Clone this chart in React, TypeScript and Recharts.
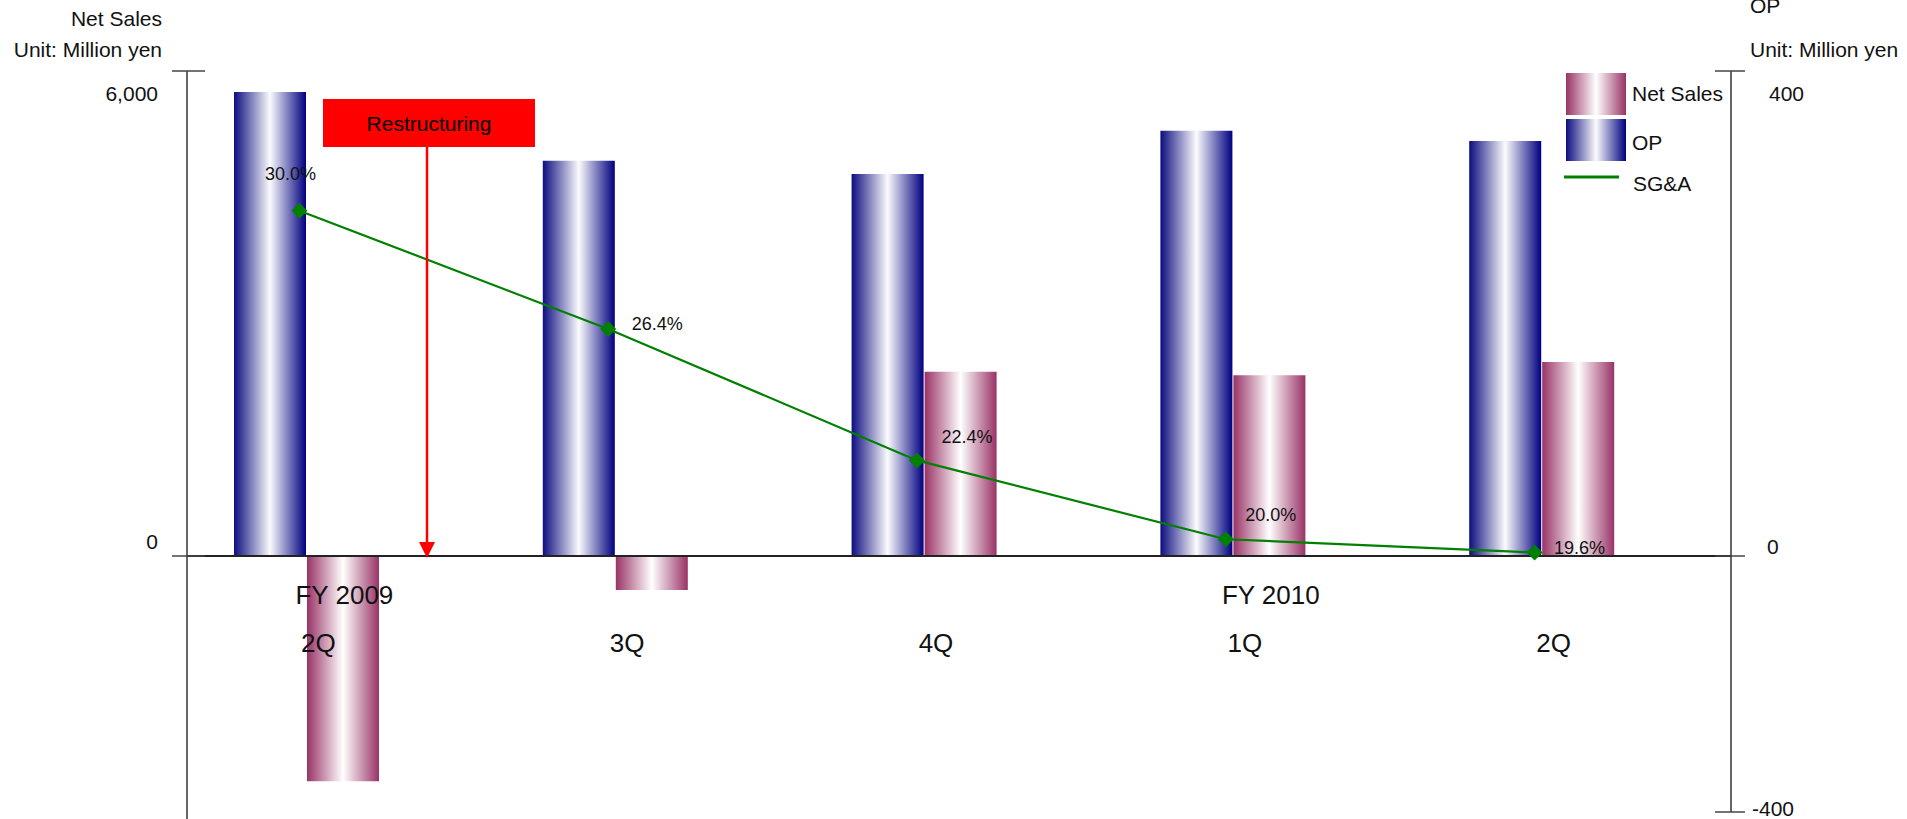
import React from 'react';
import { ComposedChart, Bar, Line, XAxis, YAxis, ReferenceLine, LabelList } from 'recharts';

// values read off the reference picture
const quarters = ['2Q', '3Q', '4Q', '1Q', '2Q'];
const fiscalYears = ['FY 2009', '', '', 'FY 2010', ''];
const salesBars = [5740, 4890, 4725, 5260, 5135];
const opBars = [-352, -53, 152, 149, 160];
const sgaRatio = [30.0, 26.4, 22.4, 20.0, 19.6];
const leftTicks = [0, 6000];
const rightTicks = [-400, 0, 400];

const data = quarters.map((q, i) => ({
  quarter: q,
  fy: fiscalYears[i],
  sales: salesBars[i],
  op: opBars[i],
  sga: sgaRatio[i],
}));

const W = 1907;
const H = 819;
const PLOT_LEFT = 187;
const PLOT_RIGHT = 1731;
const FONT = "Arial, 'Liberation Sans', sans-serif";

const LEFT_DOMAIN: [number, number] = [-3167, 6000];
const zeroFrac = -LEFT_DOMAIN[0] / (LEFT_DOMAIN[1] - LEFT_DOMAIN[0]);

// the OP axis in the source is not linear: 0..400 above the base line, 0..-400 below it
function splitScale(stops: number[], fracs: number[]): any {
  let dom: number[] = [stops[0], stops[stops.length - 1]];
  let rng: number[] = [0, 1];
  const s: any = (v: number) => {
    let i = 0;
    while (i < stops.length - 2 && v > stops[i + 1]) i++;
    const t = (v - stops[i]) / (stops[i + 1] - stops[i]);
    const f = fracs[i] + t * (fracs[i + 1] - fracs[i]);
    return rng[0] + f * (rng[1] - rng[0]);
  };
  s.domain = (d?: number[]) => {
    if (d === undefined) return dom;
    dom = d;
    return s;
  };
  s.range = (r?: number[]) => {
    if (r === undefined) return rng;
    rng = r;
    return s;
  };
  s.copy = () => splitScale(stops, fracs).domain(dom).range(rng);
  s.ticks = () => stops;
  s.tickFormat = () => (v: number) => String(v);
  s.clamp = () => s;
  s.nice = () => s;
  return s;
}

const opScale = splitScale([-400, 0, 400], [0, zeroFrac, 1]);

const fmt = (v: number) => v.toLocaleString('en-US');

const LeftTick = (props: any) => {
  const { y, payload } = props;
  const v = payload.value;
  const dy = v === 0 ? -15 : 22;
  return (
    <g>
      <line x1={PLOT_LEFT - 15} x2={PLOT_LEFT + 18} y1={y} y2={y} stroke="#444" strokeWidth={1.5} />
      <text x={PLOT_LEFT - 29} y={y + dy} textAnchor="end" dominantBaseline="central"
        fontFamily={FONT} fontSize={21} fill="#111">{fmt(v)}</text>
    </g>
  );
};

const rightLabelShift: Record<number, [number, number]> = { 400: [38, 22], 0: [36, -10], '-400': [21, -4] };

const RightTick = (props: any) => {
  const { y, payload } = props;
  const v = payload.value;
  const [dx, dy] = rightLabelShift[v] || [36, 0];
  return (
    <g>
      <line x1={PLOT_RIGHT - 16} x2={PLOT_RIGHT + 14} y1={y} y2={y} stroke="#444" strokeWidth={1.5} />
      <text x={PLOT_RIGHT + dx} y={y + dy} textAnchor="start" dominantBaseline="central"
        fontFamily={FONT} fontSize={21} fill="#111">{fmt(v)}</text>
    </g>
  );
};

const CategoryTick = (props: any) => {
  const { x, payload, index } = props;
  const fy = fiscalYears[index];
  return (
    <g>
      {fy && (
        <text x={x + 38} y={595} textAnchor="middle" dominantBaseline="central"
          fontFamily={FONT} fontSize={26} fill="#111">{fy}</text>
      )}
      <text x={x + 12} y={643} textAnchor="middle" dominantBaseline="central"
        fontFamily={FONT} fontSize={26} fill="#111">{payload.value}</text>
    </g>
  );
};

const Diamond = (props: any) => {
  const { cx, cy } = props;
  if (cx == null || cy == null) return null;
  const r = 8;
  return <polygon points={`${cx},${cy - r} ${cx + r},${cy} ${cx},${cy + r} ${cx - r},${cy}`} fill="#008000" />;
};

const labelShift = [[-9, -37], [49, -5], [50, -23], [45, -24], [45, -4]];

const SgaLabel = (props: any) => {
  const { x, y, value, index } = props;
  const [dx, dy] = labelShift[index] || [40, -10];
  return (
    <text x={x + dx} y={y + dy} textAnchor="middle" dominantBaseline="central"
      fontFamily={FONT} fontSize={18} fill="#111">{`${Number(value).toFixed(1)}%`}</text>
  );
};

const LegendBox = () => (
  <svg width={200} height={130} style={{ position: 'absolute', left: 1564, top: 73 }}>
    <defs>
      <linearGradient id="lgMagenta" x1="0" x2="1" y1="0" y2="0">
        <stop offset="0%" stopColor="#993366" />
        <stop offset="50%" stopColor="#ffffff" />
        <stop offset="100%" stopColor="#993366" />
      </linearGradient>
      <linearGradient id="lgNavy" x1="0" x2="1" y1="0" y2="0">
        <stop offset="0%" stopColor="#0d0d80" />
        <stop offset="50%" stopColor="#fbfbfd" />
        <stop offset="100%" stopColor="#000080" />
      </linearGradient>
    </defs>
    <rect x={2} y={0} width={60} height={42} fill="url(#lgMagenta)" />
    <text x={68} y={20} dominantBaseline="central" fontFamily={FONT} fontSize={21} fill="#111">Net Sales</text>
    <rect x={2} y={46} width={60} height={42} fill="url(#lgNavy)" />
    <text x={68} y={69} dominantBaseline="central" fontFamily={FONT} fontSize={21} fill="#111">OP</text>
    <line x1={0} x2={55} y1={104} y2={104} stroke="#008000" strokeWidth={3} />
    <text x={69} y={110} dominantBaseline="central" fontFamily={FONT} fontSize={21} fill="#111">SG&amp;A</text>
  </svg>
);

export default function App() {
  return (
    <div style={{ position: 'absolute', left: 0, top: 0, width: W, height: H, background: '#fff' }}>
      <ComposedChart width={W} height={H} data={data} barSize={72} barGap={1}
        margin={{ top: 71, right: 116, bottom: 0, left: 127 }}>
        <defs>
          <linearGradient id="gNavy" x1="0" x2="1" y1="0" y2="0">
            <stop offset="0%" stopColor="#0d0d80" />
            <stop offset="50%" stopColor="#fbfbfd" />
            <stop offset="100%" stopColor="#000080" />
          </linearGradient>
          <linearGradient id="gMagenta" x1="0" x2="1" y1="0" y2="0">
            <stop offset="0%" stopColor="#993366" />
            <stop offset="50%" stopColor="#ffffff" />
            <stop offset="100%" stopColor="#993366" />
          </linearGradient>
        </defs>
        <XAxis xAxisId="main" dataKey="quarter" height={7} axisLine={false} tickLine={false}
          padding={{ left: -35, right: 35 }} tick={<CategoryTick />} interval={0} />
        <XAxis xAxisId="line" dataKey="quarter" hide padding={{ left: -42, right: 42 }} />
        <YAxis yAxisId="left" type="number" domain={LEFT_DOMAIN} ticks={leftTicks} width={60} interval={0}
          axisLine={{ stroke: '#333', strokeWidth: 1.5 }} tickLine={false} tick={<LeftTick />} />
        <YAxis yAxisId="right" orientation="right" type="number" domain={[-400, 400]} scale={opScale}
          ticks={rightTicks} width={60} interval={0} axisLine={{ stroke: '#333', strokeWidth: 1.5 }}
          tickLine={false} tick={<RightTick />} />
        <YAxis yAxisId="pct" type="number" hide domain={[11.7, 34.25]} />
        <Bar xAxisId="main" yAxisId="left" dataKey="sales" name="OP" fill="url(#gNavy)" isAnimationActive={false} />
        <Bar xAxisId="main" yAxisId="right" dataKey="op" name="Net Sales" fill="url(#gMagenta)" isAnimationActive={false} />
        <ReferenceLine xAxisId="main" yAxisId="left" y={0} stroke="#222" strokeWidth={1.8} />
        <Line xAxisId="line" yAxisId="pct" dataKey="sga" name="SG&A" stroke="#008000" strokeWidth={2.2}
          dot={<Diamond />} activeDot={false} isAnimationActive={false}>
          <LabelList dataKey="sga" content={<SgaLabel />} />
        </Line>
      </ComposedChart>
      <LegendBox />
      <svg width={W} height={H} style={{ position: 'absolute', left: 0, top: 0, pointerEvents: 'none' }}>
        <g fontFamily={FONT} fontSize={21} fill="#111">
          <text x={162} y={18} textAnchor="end" dominantBaseline="central">Net Sales</text>
          <text x={162} y={49} textAnchor="end" dominantBaseline="central">Unit: Million yen</text>
          <text x={1750} y={5} dominantBaseline="central">OP</text>
          <text x={1750} y={49} dominantBaseline="central">Unit: Million yen</text>
        </g>
        <line x1={PLOT_LEFT} x2={PLOT_LEFT} y1={812} y2={819} stroke="#333" strokeWidth={1.5} />
        <rect x={323} y={99} width={212} height={48} fill="#ff0000" />
        <text x={429} y={123} textAnchor="middle" dominantBaseline="central" fontFamily={FONT} fontSize={21} fill="#000">Restructuring</text>
        <line x1={427} x2={427} y1={147} y2={546} stroke="#ff0000" strokeWidth={2.5} />
        <polygon points="419,542 435,542 427,558" fill="#ff0000" />
      </svg>
    </div>
  );
}
